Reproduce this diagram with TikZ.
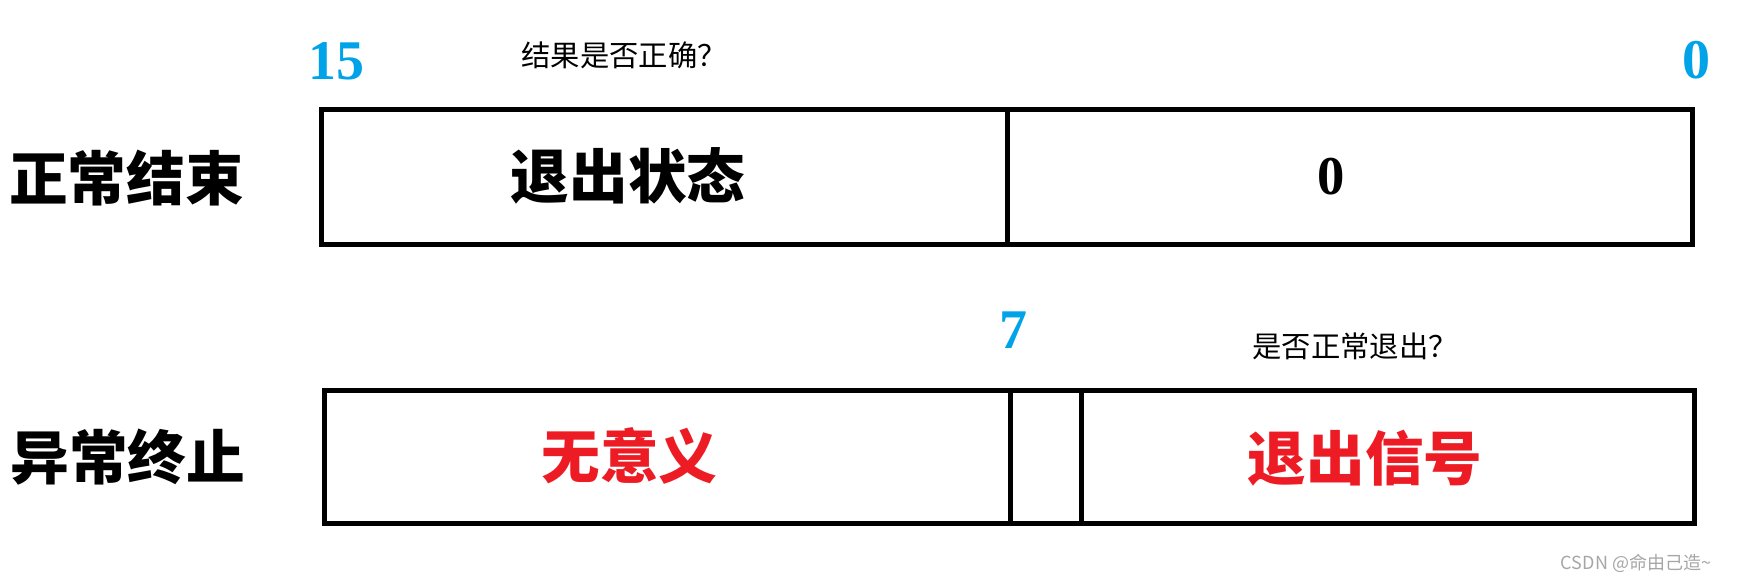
\documentclass[tikz,border=0pt]{standalone}
\usepackage{fontspec}
\setmainfont{Liberation Serif}
\newfontfamily\cjk{Noto Sans CJK SC}
\definecolor{numblue}{HTML}{00A2E8}
\definecolor{sigred}{HTML}{ED1C24}
\definecolor{markgray}{HTML}{A6A6A6}

\begin{document}
\begin{tikzpicture}[x=0.75pt,y=0.75pt,yscale=-1,xscale=1,
  box/.style={line width=3.75pt},
  bitnum/.style={inner sep=0.75pt, text=numblue, font=\bfseries\fontsize{42}{42}\selectfont},
  bigtext/.style={inner sep=0.75pt, font=\cjk\bfseries\fontsize{44}{44}\selectfont},
  smalltext/.style={inner sep=0.75pt, font=\cjk\fontsize{22}{22}\selectfont}]
\useasboundingbox (0,0) rectangle (1738,582);

%Shape: Rectangle (upper, exit status)
\draw[box] (321.5,109) rectangle (1007,244);
%Shape: Rectangle (upper, low byte)
\draw[box] (1007,109) rectangle (1692,244);
%Shape: Rectangle (lower, unused)
\draw[box] (324.3,390.5) rectangle (1010,523.5);
%Shape: Rectangle (lower, core dump bit)
\draw[box] (1010,390.5) rectangle (1081,523.5);
%Shape: Rectangle (lower, signal)
\draw[box] (1081,390.5) rectangle (1694.5,523.5);

% Text Node
\node[bigtext] (normal) at (126.5,178) {正常结束};
% Text Node
\node[bigtext] (abnormal) at (128,457) {异常终止};
% Text Node
\node[bigtext] (status) at (628,176) {退出状态};
% Text Node
\node[bitnum, text=black, font=\bfseries\fontsize{41}{41}\selectfont] (zero) at (1331,177) {0};
% Text Node
\node[bigtext, text=sigred] (unused) at (629.5,456) {无意义};
% Text Node
\node[bigtext, text=sigred] (signal) at (1365,458) {退出信号};
% Text Node
\node[bitnum] (bit15) at (336.5,61) {15};
% Text Node
\node[bitnum] (bit0) at (1696,60.5) {0};
% Text Node
\node[bitnum] (bit7) at (1013,330) {7};
% Text Node
\node[smalltext] (askresult) at (624,55) {结果是否正确？};
% Text Node
\node[smalltext] (askexit) at (1355,346.5) {是否正常退出？};
% Text Node
\node[inner sep=0.75pt, text=markgray, font=\cjk\fontsize{13.5}{13.5}\selectfont] (mark) at (1636,563) {CSDN @命由己造\textasciitilde};

\end{tikzpicture}
\end{document}
